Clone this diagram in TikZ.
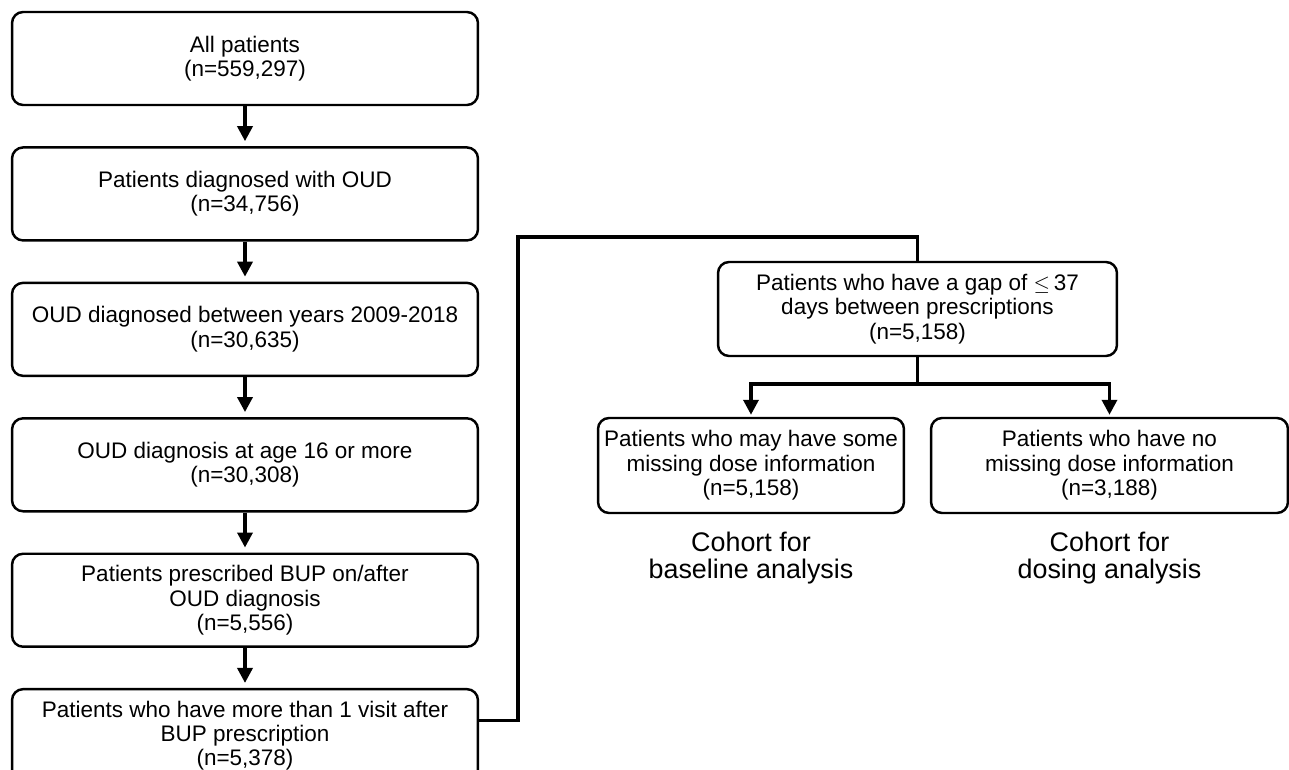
\documentclass[tikz,border=0pt]{standalone}
\usepackage{fontspec}
\setmainfont{Liberation Sans}
\usetikzlibrary{chains,positioning,arrows.meta}

\begin{document}
\begin{tikzpicture}[x=0.02cm,y=-0.02cm]
\tikzstyle{every path}=[line width=2pt]

\tikzstyle{fcbox}=[draw,line width=1.4pt,rounded corners=0.22cm,align=center,
minimum height=1.86cm,inner sep=1pt,font=\fontsize{12.8}{13.9}\selectfont]
\tikzstyle{fcarrow}=[-{Triangle[length=0.3cm,width=0.3cm]},shorten >=0.1cm]
\tikzstyle{cohort}=[align=center,font=\fontsize{15.3}{15.5}\selectfont]

\useasboundingbox (0,0) rectangle (1289,770);

%% Draw selection steps
\begin{scope}[start chain=1 going below,node distance=0.8cm]
    \node [on chain=1,fcbox,minimum width=9.32cm] (all) at (245,58.5) {All patients\\(n=559,297)};
    \node [on chain=1,fcbox,minimum width=9.32cm] (oud) {Patients diagnosed with OUD\\(n=34,756)};
    \node [on chain=1,fcbox,minimum width=9.32cm] (years) {OUD diagnosed between years 2009-2018\\(n=30,635)};
    \node [on chain=1,fcbox,minimum width=9.32cm] (age) {OUD diagnosis at age 16 or more\\(n=30,308)};
    \node [on chain=1,fcbox,minimum width=9.32cm] (bup) {Patients prescribed BUP on/after\\OUD diagnosis\\(n=5,556)};
    \node [on chain=1,fcbox,minimum width=9.32cm] (visit) {Patients who have more than 1 visit after\\BUP prescription\\(n=5,378)};
\end{scope}

%% Draw arrows between steps
\draw [fcarrow] (all.south) -- (oud.north);
\draw [fcarrow] (oud.south) -- (years.north);
\draw [fcarrow] (years.south) -- (age.north);
\draw [fcarrow] (age.south) -- (bup.north);
\draw [fcarrow] (bup.south) -- (visit.north);

%% Draw gap step and the two cohorts
\node [fcbox,minimum width=7.98cm,minimum height=1.88cm] (gap) at (917.5,309)
    {Patients who have a gap of~$\leq$\,37\\days between prescriptions\\(n=5,158)};
\node [fcbox,minimum width=6.12cm,minimum height=1.9cm] (somemiss) at (751,465.5)
    {Patients who may have some\\missing dose information\\(n=5,158)};
\node [fcbox,minimum width=7.14cm,minimum height=1.9cm] (nomiss) at (1109.5,465.5)
    {Patients who have no\\missing dose information\\(n=3,188)};
\node [cohort,below=0.2cm of somemiss] (basecoh) {Cohort for\\baseline analysis};
\node [cohort,below=0.2cm of nomiss] (dosecoh) {Cohort for\\dosing analysis};

%% Draw connectors on the right
\coordinate (bend) at (518,237);
\draw ([yshift=0.3cm]visit.east) -| (bend) -| (gap.north);
\draw (gap.south) -- ++(0,27) coordinate (split);
\draw [fcarrow,shorten >=0.04cm] (split) -| (somemiss.north);
\draw [fcarrow,shorten >=0.04cm] (split) -| (nomiss.north);
\end{tikzpicture}
\end{document}
